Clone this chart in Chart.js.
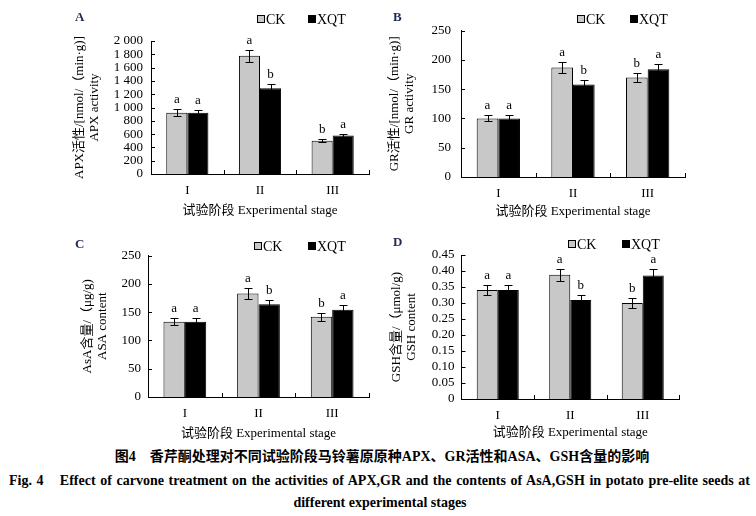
<!DOCTYPE html>
<html>
<head>
<meta charset="utf-8">
<script src="https://cdn.jsdelivr.net/npm/chart.js@4.4.0/dist/chart.umd.min.js"></script>
<style>
  body { margin: 0; background: #fff; width: 756px; height: 516px; position: relative; overflow: hidden;
         font-family: "Liberation Serif", "Noto Sans CJK SC", serif; color: #000; }
  .panel { position: absolute; }
  .tag { position: absolute; font-weight: bold; font-size: 13px; line-height: 14px; color: #1f2a55; }
  .legend { position: absolute; font-size: 14px; line-height: 16px; white-space: nowrap; }
  .legend span { display: inline-block; }
  .box { width: 6px; height: 6px; border: 1px solid #000; margin-right: 1px; vertical-align: 1px; }
  .cap { position: absolute; font-weight: bold; font-size: 14px; line-height: 18px; white-space: nowrap; }
</style>
</head>
<body>
<div id="charts"></div>
<div class="cap" style="left:0;width:764px;top:448px;text-align:center;">图4　香芹酮处理对不同试验阶段马铃薯原原种APX、GR活性和ASA、GSH含量的影响</div>
<div class="cap" style="left:9px;width:741px;top:472px;text-align:justify;text-align-last:justify;">Fig. 4　Effect of carvone treatment on the activities of APX,GR and the contents of AsA,GSH in potato pre-elite seeds at</div>
<div class="cap" style="left:0;width:760px;top:494px;text-align:center;">different experimental stages</div>

<script>
// Categories and series
const stages = ['I', 'II', 'III'];
const seriesNames = ['CK', 'XQT'];

// A: APX activity
const apxCK = [920, 1780, 500];
const apxCKErr = [50, 90, 25];
const apxXQT = [920, 1290, 578];
const apxXQTErr = [45, 60, 28];
const apxCKLetters = ['a', 'a', 'b'];
const apxXQTLetters = ['a', 'b', 'a'];

// B: GR activity
const grCK = [100, 187, 170];
const grCKErr = [5, 9, 8];
const grXQT = [100, 158, 184];
const grXQTErr = [5, 8, 9];
const grCKLetters = ['a', 'a', 'b'];
const grXQTLetters = ['a', 'b', 'a'];

// C: AsA content
const asaCK = [133, 183, 142];
const asaCKErr = [6, 10, 7];
const asaXQT = [133, 164, 154];
const asaXQTErr = [6, 8, 8];
const asaCKLetters = ['a', 'a', 'b'];
const asaXQTLetters = ['a', 'b', 'a'];

// D: GSH content
const gshCK = [0.341, 0.388, 0.300];
const gshCKErr = [0.016, 0.019, 0.016];
const gshXQT = [0.341, 0.309, 0.386];
const gshXQTErr = [0.016, 0.016, 0.019];
const gshCKLetters = ['a', 'a', 'b'];
const gshXQTLetters = ['a', 'b', 'a'];

// Axis ticks
const apxTicks = { max: 2000, step: 200 };
const grTicks = { max: 250, step: 50 };
const asaTicks = { max: 250, step: 50 };
const gshTicks = { max: 0.45, step: 0.05 };

const FONT = '"Liberation Serif", "Noto Sans CJK SC", serif';

function thousands(v) {
    return v >= 1000 ? Math.floor(v / 1000) + ' ' + String(v % 1000).padStart(3, '0') : String(v);
}

// Layout of each panel (page coords): box = canvas, area = plot area
const panels = [
    { tag: 'A', box: [60, 0, 318, 225], area: [151, 41, 369, 174],
      yTitle: ['APX活性/[nmol/（min·g)]', 'APX activity'], yTitlePad: 12.5, yTickPad: 8, xTitlePad: 6.5,
      ck: apxCK, ckErr: apxCKErr, xqt: apxXQT, xqtErr: apxXQTErr, ckL: apxCKLetters, xqtL: apxXQTLetters,
      ticks: apxTicks, fmt: v => thousands(Math.round(v)),
      legend: [257, 308, 20] },
    { tag: 'B', box: [378, 0, 320, 225], area: [461, 30.5, 685, 177],
      yTitle: ['GR活性/[nmol/（min·g)]', 'GR activity'], yTitlePad: 9.5, yTickPad: 10, xTitlePad: 5.5,
      ck: grCK, ckErr: grCKErr, xqt: grXQT, xqtErr: grXQTErr, ckL: grCKLetters, xqtL: grXQTLetters,
      ticks: grTicks, fmt: v => String(Math.round(v)),
      legend: [577, 630, 20] },
    { tag: 'C', box: [60, 225, 318, 220], area: [148, 255.5, 369, 397],
      yTitle: ['AsA含量/（μg/g)', 'ASA content'], yTitlePad: 20.5, yTickPad: 7, xTitlePad: 4.2,
      ck: asaCK, ckErr: asaCKErr, xqt: asaXQT, xqtErr: asaXQTErr, ckL: asaCKLetters, xqtL: asaXQTLetters,
      ticks: asaTicks, fmt: v => String(Math.round(v)),
      legend: [254, 308, 247] },
    { tag: 'D', box: [378, 225, 320, 220], area: [461.5, 255, 679, 399],
      yTitle: ['GSH含量/（μmol/g)', 'GSH content'], yTitlePad: 11.5, yTickPad: 7, xTitlePad: 4.8,
      ck: gshCK, ckErr: gshCKErr, xqt: gshXQT, xqtErr: gshXQTErr, ckL: gshCKLetters, xqtL: gshXQTLetters,
      ticks: gshTicks, fmt: v => (Math.abs(v) < 1e-9 ? '0' : Number(v).toFixed(2)),
      legend: [568, 622, 245] }
];

// Error bars with significance letters
const errorBars = {
    id: 'errorBars',
    afterDatasetsDraw(chart) {
        const { ctx } = chart;
        const y = chart.scales.y;
        ctx.save();
        ctx.strokeStyle = '#000';
        ctx.lineWidth = 1;
        ctx.fillStyle = '#000';
        ctx.font = '13px ' + FONT;
        ctx.textAlign = 'center';
        ctx.textBaseline = 'bottom';
        chart.data.datasets.forEach((ds, i) => {
            chart.getDatasetMeta(i).data.forEach((bar, j) => {
                const v = ds.data[j], e = ds.errors[j];
                const top = Math.round(y.getPixelForValue(v + e)) + 0.5;
                const bot = Math.round(y.getPixelForValue(v - e)) + 0.5;
                const x = Math.round(bar.x) + 0.5;
                ctx.beginPath();
                ctx.moveTo(x, top); ctx.lineTo(x, bot);
                ctx.moveTo(x - 4, top); ctx.lineTo(x + 4, top);
                ctx.moveTo(x - 4, bot); ctx.lineTo(x + 4, bot);
                ctx.stroke();
                ctx.fillText(ds.letters[j], bar.x, top - 3);
            });
        });
        ctx.restore();
    }
};

// Tick marks pointing into the plot
const innerTicks = {
    id: 'innerTicks',
    afterDraw(chart) {
        const { ctx, chartArea: a } = chart;
        const { x, y } = chart.scales;
        ctx.save();
        ctx.strokeStyle = '#000';
        ctx.lineWidth = 1;
        ctx.beginPath();
        y.ticks.forEach(t => {
            const py = Math.round(y.getPixelForValue(t.value)) + 0.5;
            ctx.moveTo(a.left, py); ctx.lineTo(a.left + 4, py);
        });
        for (let i = 1; i <= x.ticks.length; i++) {
            const px = Math.round(x.getPixelForValue(i - 0.5)) + 0.5;
            ctx.moveTo(px, a.bottom); ctx.lineTo(px, a.bottom - 4);
        }
        ctx.stroke();
        ctx.restore();
    }
};

const host = document.getElementById('charts');

panels.forEach(p => {
    const [bx, by, bw, bh] = p.box;
    const [L, T, R, B] = p.area;

    const div = document.createElement('div');
    div.className = 'panel';
    div.style.cssText = `left:${bx}px;top:${by}px;width:${bw}px;height:${bh}px;`;
    const canvas = document.createElement('canvas');
    div.appendChild(canvas);
    host.appendChild(div);

    // panel letter
    const tag = document.createElement('div');
    tag.className = 'tag';
    tag.textContent = p.tag;
    tag.style.left = (bx + 15) + 'px';
    tag.style.top = (p.legend[2] - 10) + 'px';
    document.body.appendChild(tag);

    // legend
    [[p.legend[0], '#c8c8c8', seriesNames[0]], [p.legend[1], '#000', seriesNames[1]]].forEach(([lx, fill, name]) => {
        const lg = document.createElement('div');
        lg.className = 'legend';
        lg.style.left = lx + 'px';
        lg.style.top = (p.legend[2] - 8) + 'px';
        lg.innerHTML = `<span class="box" style="background:${fill}"></span><span>${name}</span>`;
        document.body.appendChild(lg);
    });

    new Chart(canvas, {
        type: 'bar',
        data: {
            labels: stages,
            datasets: [
                { label: seriesNames[0], data: p.ck, errors: p.ckErr, letters: p.ckL,
                  backgroundColor: '#c8c8c8', borderColor: '#000', borderWidth: 1 },
                { label: seriesNames[1], data: p.xqt, errors: p.xqtErr, letters: p.xqtL,
                  backgroundColor: '#000', borderColor: '#000', borderWidth: 1 }
            ]
        },
        options: {
            responsive: true,
            maintainAspectRatio: false,
            animation: false,
            devicePixelRatio: 1,
            categoryPercentage: 0.58,
            barPercentage: 1.0,
            layout: { padding: { left: 0, top: T - by, right: bx + bw - R, bottom: 0 } },
            plugins: { legend: { display: false }, tooltip: { enabled: false } },
            scales: {
                x: {
                    grid: { display: false, drawTicks: false, tickLength: 0 },
                    border: { display: true, color: '#000', width: 1 },
                    ticks: { color: '#000', padding: 9, font: { family: FONT, size: 13 } },
                    title: { display: true, text: '试验阶段 Experimental stage', color: '#000',
                             font: { family: FONT, size: 13, lineHeight: 15 / 13 },
                             padding: { top: 0, bottom: p.xTitlePad } },
                    afterFit(scale) { scale.height = by + bh - B; }
                },
                y: {
                    min: 0,
                    max: p.ticks.max,
                    grid: { display: false, drawTicks: false, tickLength: 0 },
                    border: { display: true, color: '#000', width: 1 },
                    ticks: { stepSize: p.ticks.step, autoSkip: false, color: '#000', padding: p.yTickPad,
                             font: { family: FONT, size: 13 }, callback: v => p.fmt(v) },
                    title: { display: true, text: p.yTitle, color: '#000',
                             font: { family: FONT, size: 13, lineHeight: 15 / 13 },
                             padding: { top: p.yTitlePad, bottom: 0 } },
                    afterFit(scale) { scale.width = L - bx; }
                }
            }
        },
        plugins: [errorBars, innerTicks]
    });
});
</script>
</body>
</html>
